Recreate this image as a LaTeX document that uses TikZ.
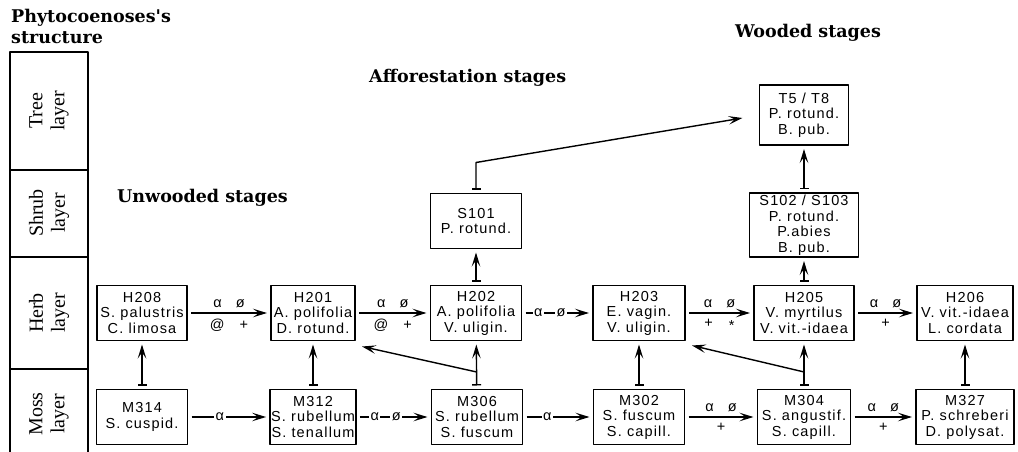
\documentclass[tikz,border=0pt]{standalone}
\usepackage{fontspec}
\setmainfont{Liberation Serif}
\newfontfamily\boxfamily{Liberation Sans}[LetterSpace=8]
\newfontfamily\headfamily{DejaVu Serif}
\newcommand{\boxtext}{\boxfamily\fontsize{14.5}{15.5}\selectfont}
\newcommand{\headtext}{\headfamily\bfseries\fontsize{17.5}{20}\selectfont}
\newcommand{\layertext}{\rmfamily\fontsize{20}{22}\selectfont}
\usetikzlibrary{arrows.meta,calc}
\begin{document}
\begin{tikzpicture}[x=1pt,y=-1pt,line join=round,
    stage/.style={draw,line width=1.4pt,align=center,minimum height=55pt,inner xsep=1pt,inner ysep=2pt,outer sep=4pt,font=\boxtext},
    trans/.style={line width=1.4pt,-{Stealth[length=14pt,width=8.5pt,inset=6pt]}},
    rise/.style={line width=1.4pt,{Bar[width=9pt]}-{Stealth[length=14pt,width=8.5pt,inset=6pt]}},
    lab/.style={font=\boxtext,inner sep=5pt},
    cut/.style={font=\boxtext,inner sep=1.5pt,fill=white},
    layerlab/.style={rotate=90,align=center,font=\layertext},
    head/.style={anchor=base west,font=\headtext,inner sep=0pt}]
\useasboundingbox (0,0) rectangle (1018,452);
% headings
\node[head] (phyto) at (11,23) {Phytocoenoses's};
\node[head] (struct) at (11,44) {structure};
\node[head] (wooded) at (735,38) {Wooded stages};
\node[head] (affor) at (369,83) {Afforestation stages};
\node[head] (unwood) at (117,202) {Unwooded stages};
% layer column
\draw[line width=1.2pt] (10,452) -- (10,52) -- (88,52) -- (88,452);
\foreach \y in {170,257,369} \draw[line width=1.2pt] (10,\y) -- (88,\y);
\node[layerlab] (tree) at (49,111) {Tree\\layer};
\node[layerlab] (shrub) at (49,213) {Shrub\\layer};
\node[layerlab] (herb) at (49,313) {Herb\\layer};
\node[layerlab] (moss) at (49,414) {Moss\\layer};
% stages
\node[stage,minimum width=90pt] (H208) at (142,313) {H208\\S. palustris\\C. limosa};
\node[stage,minimum width=91pt] (M314) at (142,417) {M314\\S. cuspid.};
\node[stage,minimum width=84pt] (H201) at (313,313) {H201\\A. polifolia\\D. rotund.};
\node[stage,minimum width=85pt] (M312) at (313,417) {M312\\S. rubellum\\S. tenallum};
\node[stage,minimum width=91pt] (H202) at (476,313) {H202\\A. polifolia\\V. uligin.};
\node[stage,minimum width=91pt] (S101) at (476,221) {S101\\P. rotund.};
\node[stage,minimum width=91pt] (M306) at (477,417) {M306\\S. rubellum\\S. fuscum};
\node[stage,minimum width=92pt] (H203) at (639,313) {H203\\E. vagin.\\V. uligin.};
\node[stage,minimum width=91pt] (M302) at (639,417) {M302\\S. fuscum\\S. capill.};
\node[stage,minimum width=100pt] (H205) at (804,313) {H205\\V. myrtilus\\V. vit.-idaea};
\node[stage,minimum width=93pt] (M304) at (804,417) {M304\\S. angustif.\\S. capill.};
\node[stage,minimum width=96pt] (H206) at (965,313) {H206\\V. vit.-idaea\\L. cordata};
\node[stage,minimum width=98pt] (M327) at (965,417) {M327\\P. schreberi\\D. polysat.};
\node[stage,minimum width=109pt,minimum height=64pt] (S102) at (804,225) {S102 / S103\\P. rotund.\\P.abies\\B. pub.};
\node[stage,minimum width=89pt,minimum height=60pt] (T5) at (804,115) {T5 / T8\\P. rotund.\\B. pub.};
% herb row
\draw[trans] (H208) -- (H201) node[lab,midway,above]{α\hspace{14pt}ø} node[lab,midway,below]{@\hspace{15pt}+};
\draw[trans] (H201) -- (H202) node[lab,midway,above]{α\hspace{14pt}ø} node[lab,midway,below]{@\hspace{15pt}+};
\draw[trans] (H202) -- (H203) node[cut,pos=.2]{α} node[cut,pos=.56]{ø};
\draw[trans] (H203) -- (H205) node[lab,midway,above]{α\hspace{14pt}ø} node[lab,midway,below]{+\hspace{16pt}\raisebox{-3pt}{*}};
\draw[trans] (H205) -- (H206) node[lab,midway,above]{α\hspace{14pt}ø} node[lab,midway,below]{+};
% moss row
\draw[trans] (M314) -- (M312) node[cut,pos=.38]{α};
\draw[trans] (M312) -- (M306) node[cut,pos=.22]{α} node[cut,pos=.54]{ø};
\draw[trans] (M306) -- (M302) node[cut,pos=.33]{α};
\draw[trans] (M302) -- (M304) node[lab,midway,above]{α\hspace{14pt}ø} node[lab,midway,below]{+};
\draw[trans] (M304) -- (M327) node[lab,midway,above]{α\hspace{14pt}ø} node[lab,midway,below]{+};
% upward links
\draw[rise] (M314) -- (H208);
\draw[rise] (M312) -- (H201);
\draw[rise] (M306) -- coordinate[pos=.33] (m306up) (H202);
\draw[rise] (M302) -- (H203);
\draw[rise] (M304) -- coordinate[pos=.33] (m304up) (H205);
\draw[rise] (M327) -- (H206);
\draw[rise] (H202) -- (S101);
\draw[rise] (H205) -- (S102);
\draw[rise] (S102) -- (T5);
\draw[trans] (m306up) -- ($(H201.south east)+(3,2)$);
\draw[trans] (m304up) -- ($(H203.south east)+(3,1)$);
\draw[rise] (S101.north) -- ++(0,-27) -- ($(T5.west)+(-13,3)$);
\end{tikzpicture}
\end{document}
